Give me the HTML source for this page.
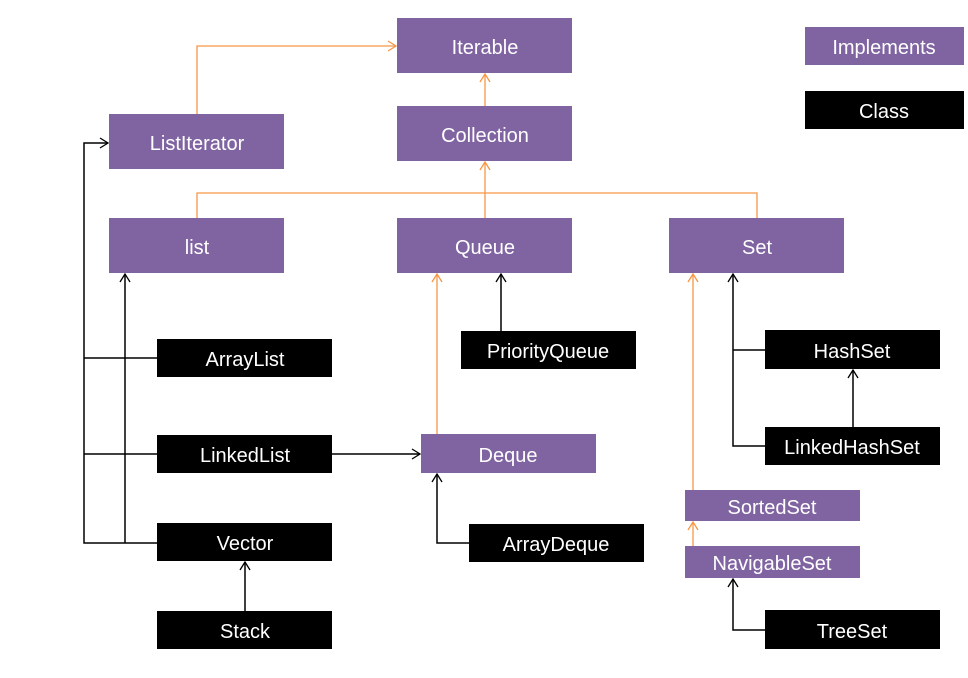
<!DOCTYPE html>
<html><head><meta charset="utf-8"><style>body{margin:0;background:#fff}svg{display:block}text{font-family:"Liberation Sans",sans-serif;font-size:20px;fill:#fff;text-anchor:middle;dominant-baseline:central}</style></head><body>
<svg width="968" height="678" viewBox="0 0 968 678" xmlns="http://www.w3.org/2000/svg">
<defs>
<marker id="ao" markerWidth="12" markerHeight="12" refX="10" refY="6" orient="auto" markerUnits="userSpaceOnUse"><path d="M2,1 L10,6 L2,11" fill="none" stroke="#f79646" stroke-width="1.3"/></marker>
<marker id="ab" markerWidth="12" markerHeight="12" refX="10" refY="6" orient="auto" markerUnits="userSpaceOnUse"><path d="M2,1 L10,6 L2,11" fill="none" stroke="#000" stroke-width="1.3"/></marker>
</defs>
<g fill="none" stroke="#f79646" stroke-width="1.3">
<polyline points="197,114 197,46 396,46" marker-end="url(#ao)"/>
<line x1="485" y1="106" x2="485" y2="74" marker-end="url(#ao)"/>
<polyline points="197,218 197,193 757,193 757,218"/>
<line x1="485" y1="218" x2="485" y2="162" marker-end="url(#ao)"/>
<line x1="437" y1="434" x2="437" y2="274" marker-end="url(#ao)"/>
<line x1="693" y1="490" x2="693" y2="274" marker-end="url(#ao)"/>
<line x1="693" y1="546" x2="693" y2="522" marker-end="url(#ao)"/>
</g>
<g fill="none" stroke="#000" stroke-width="1.5">
<polyline points="157,543 84,543 84,143 108,143" marker-end="url(#ab)"/>
<line x1="84" y1="358" x2="157" y2="358"/>
<line x1="84" y1="454" x2="157" y2="454"/>
<line x1="125" y1="543" x2="125" y2="274" marker-end="url(#ab)"/>
<line x1="332" y1="454" x2="420" y2="454" marker-end="url(#ab)"/>
<line x1="501" y1="331" x2="501" y2="274" marker-end="url(#ab)"/>
<polyline points="469,543 437,543 437,474" marker-end="url(#ab)"/>
<line x1="245" y1="611" x2="245" y2="562" marker-end="url(#ab)"/>
<polyline points="765,446 733,446 733,274" marker-end="url(#ab)"/>
<line x1="733" y1="350" x2="765" y2="350"/>
<line x1="853" y1="427" x2="853" y2="370" marker-end="url(#ab)"/>
<polyline points="765,630 733,630 733,579" marker-end="url(#ab)"/>
</g>
<g fill="#8064a2">
<rect x="397" y="18" width="175" height="55"/>
<rect x="397" y="106" width="175" height="55"/>
<rect x="109" y="114" width="175" height="55"/>
<rect x="109" y="218" width="175" height="55"/>
<rect x="397" y="218" width="175" height="55"/>
<rect x="669" y="218" width="175" height="55"/>
<rect x="805" y="27" width="159" height="38"/>
<rect x="421" y="434" width="175" height="39"/>
<rect x="685" y="490" width="175" height="31"/>
<rect x="685" y="546" width="175" height="32"/>
</g>
<g fill="#000">
<rect x="805" y="91" width="159" height="38"/>
<rect x="157" y="339" width="175" height="38"/>
<rect x="157" y="435" width="175" height="38"/>
<rect x="157" y="523" width="175" height="38"/>
<rect x="157" y="611" width="175" height="38"/>
<rect x="461" y="331" width="175" height="38"/>
<rect x="469" y="524" width="175" height="38"/>
<rect x="765" y="330" width="175" height="39"/>
<rect x="765" y="427" width="175" height="38"/>
<rect x="765" y="610" width="175" height="39"/>
</g>
<text x="485" y="48">Iterable</text>
<text x="485" y="136">Collection</text>
<text x="197" y="144">ListIterator</text>
<text x="197" y="248">list</text>
<text x="485" y="248">Queue</text>
<text x="757" y="248">Set</text>
<text x="884" y="48">Implements</text>
<text x="884" y="112">Class</text>
<text x="245" y="360">ArrayList</text>
<text x="245" y="456">LinkedList</text>
<text x="245" y="544">Vector</text>
<text x="245" y="632">Stack</text>
<text x="548" y="352">PriorityQueue</text>
<text x="508" y="456">Deque</text>
<text x="556" y="545">ArrayDeque</text>
<text x="852" y="352">HashSet</text>
<text x="852" y="448">LinkedHashSet</text>
<text x="772" y="508">SortedSet</text>
<text x="772" y="564">NavigableSet</text>
<text x="852" y="632">TreeSet</text>
</svg>
</body></html>
